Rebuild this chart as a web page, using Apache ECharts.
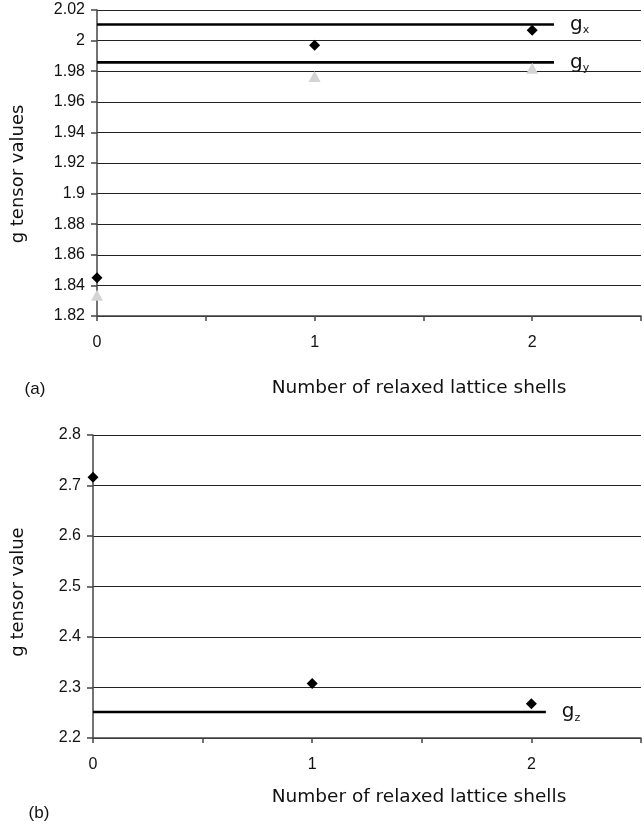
<!DOCTYPE html>
<html>
<head>
<meta charset="utf-8">
<script src="https://cdn.jsdelivr.net/npm/echarts@6/dist/echarts.min.js"></script>
<style>
  html, body { margin: 0; padding: 0; background: #fff; }
  #chart { width: 644px; height: 829px; }
</style>
</head>
<body>
<div id="chart"></div>
<script>
// number of relaxed lattice shells
const shells = [0, 1, 2]

// panel (a)
const gxValues = [1.845, 1.997, 2.0068]
const gyValues = [1.8335, 1.9765, 1.982]
const gxRef = 2.0105
const gyRef = 1.9858
const refEndA = 2.1

// panel (b)
const gzValues = [2.7165, 2.308, 2.268]
const gzRef = 2.2515
const refEndB = 2.066

const tickFont = { color: '#111', fontSize: 16, fontFamily: 'Liberation Sans' }
const titleFont = 'DejaVu Sans'

const chart = echarts.init(document.getElementById('chart'))

const xAxisBase = (gridIndex) => ({
  gridIndex,
  type: 'value',
  min: 0,
  max: 2.5,
  interval: 0.5,
  axisLine: { show: true, onZero: false, lineStyle: { color: '#444', width: 1.5 } },
  axisTick: { show: true, length: 5, lineStyle: { color: '#444', width: 1.5 } },
  splitLine: { show: false },
  axisLabel: {
    ...tickFont,
    margin: 19,
    formatter: v => (Number.isInteger(v) ? String(v) : '')
  }
})

const yAxisBase = (gridIndex, min, max, interval) => ({
  gridIndex,
  type: 'value',
  min,
  max,
  interval,
  axisLine: { show: true, lineStyle: { color: '#444', width: 1.5 } },
  axisTick: { show: true, length: 6, lineStyle: { color: '#444', width: 1.5 } },
  splitLine: { show: true, lineStyle: { color: '#222', width: 1.2 } },
  axisLabel: { ...tickFont, margin: 12 }
})

const refLine = (name, xIdx, value, end, sub) => ({
  name,
  type: 'line',
  xAxisIndex: xIdx,
  yAxisIndex: xIdx,
  data: [[0, value], [end, value]],
  symbol: 'none',
  lineStyle: { color: '#000', width: 2.6 },
  z: 3,
  endLabel: {
    show: true,
    distance: 16,
    formatter: () => '{g|g}{s|' + sub + '}',
    rich: {
      g: { fontFamily: titleFont, fontSize: 20, color: '#111' },
      s: { fontFamily: titleFont, fontSize: 11, color: '#111', padding: [12, 0, 0, 0] }
    }
  }
})

const points = (name, xIdx, values, symbol, size, color) => ({
  name,
  type: 'scatter',
  xAxisIndex: xIdx,
  yAxisIndex: xIdx,
  data: shells.map((s, i) => [s, values[i]]),
  symbol,
  symbolSize: size,
  itemStyle: { color, opacity: 1 },
  z: 4
})

chart.setOption({
  backgroundColor: '#fff',
  animation: false,
  grid: [
    { left: 97, top: 10, right: -6, height: 306 },
    { left: 93, top: 435, right: -5, height: 303 }
  ],
  xAxis: [xAxisBase(0), xAxisBase(1)],
  yAxis: [
    yAxisBase(0, 1.82, 2.02, 0.02),
    yAxisBase(1, 2.2, 2.8, 0.1)
  ],
  series: [
    refLine('gx ref', 0, gxRef, refEndA, 'x'),
    refLine('gy ref', 0, gyRef, refEndA, 'y'),
    points('gy', 0, gyValues, 'triangle', [12, 11], '#d4d4d4'),
    points('gx', 0, gxValues, 'diamond', [11, 11], '#000'),
    refLine('gz ref', 1, gzRef, refEndB, 'z'),
    points('gz', 1, gzValues, 'diamond', [11, 11], '#000')
  ],
  graphic: [
    {
      type: 'text', x: 18, y: 174, rotation: Math.PI / 2,
      style: { text: 'g tensor values', fontFamily: titleFont, fontSize: 18, fill: '#111', align: 'center', verticalAlign: 'middle' }
    },
    {
      type: 'text', x: 419, y: 388,
      style: { text: 'Number of relaxed lattice shells', fontFamily: titleFont, fontSize: 18.5, fill: '#111', align: 'center', verticalAlign: 'middle' }
    },
    {
      type: 'text', x: 35, y: 389,
      style: { text: '(a)', fontFamily: 'Liberation Sans', fontSize: 17, fill: '#111', align: 'center', verticalAlign: 'middle' }
    },
    {
      type: 'text', x: 18, y: 592, rotation: Math.PI / 2,
      style: { text: 'g tensor value', fontFamily: titleFont, fontSize: 18, fill: '#111', align: 'center', verticalAlign: 'middle' }
    },
    {
      type: 'text', x: 419, y: 797,
      style: { text: 'Number of relaxed lattice shells', fontFamily: titleFont, fontSize: 18.5, fill: '#111', align: 'center', verticalAlign: 'middle' }
    },
    {
      type: 'text', x: 39, y: 813,
      style: { text: '(b)', fontFamily: 'Liberation Sans', fontSize: 17, fill: '#111', align: 'center', verticalAlign: 'middle' }
    }
  ]
})
</script>
</body>
</html>
